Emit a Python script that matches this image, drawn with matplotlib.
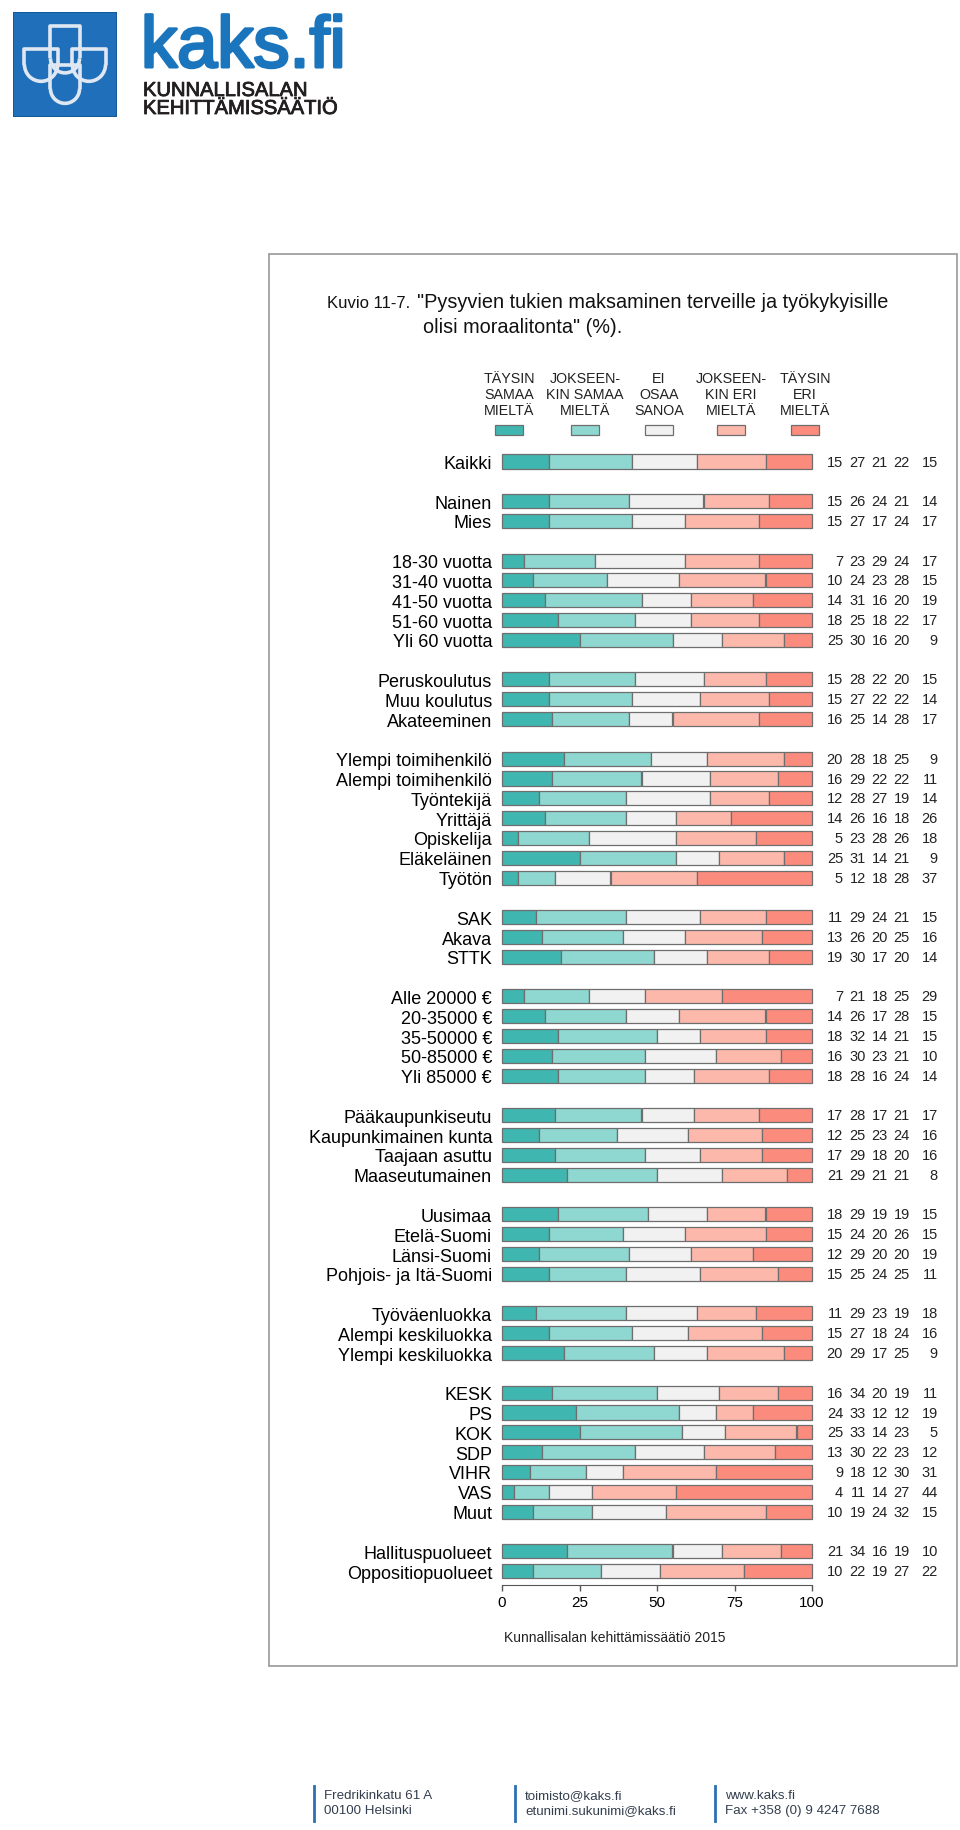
import matplotlib
matplotlib.use("Agg")
import matplotlib.pyplot as plt
from matplotlib.patches import Rectangle, Arc
from matplotlib.lines import Line2D
import matplotlib.patheffects as pe
import numpy as np

plt.rcParams['font.family'] = ['Liberation Sans', 'DejaVu Sans']

W, H = 960, 1831

# --- data -------------------------------------------------------------
labels = [
    "Kaikki",
    "Nainen", "Mies",
    "18-30 vuotta", "31-40 vuotta", "41-50 vuotta", "51-60 vuotta", "Yli 60 vuotta",
    "Peruskoulutus", "Muu koulutus", "Akateeminen",
    "Ylempi toimihenkilö", "Alempi toimihenkilö", "Työntekijä", "Yrittäjä",
    "Opiskelija", "Eläkeläinen", "Työtön",
    "SAK", "Akava", "STTK",
    "Alle 20000 €", "20-35000 €", "35-50000 €", "50-85000 €", "Yli 85000 €",
    "Pääkaupunkiseutu", "Kaupunkimainen kunta", "Taajaan asuttu", "Maaseutumainen",
    "Uusimaa", "Etelä-Suomi", "Länsi-Suomi", "Pohjois- ja Itä-Suomi",
    "Työväenluokka", "Alempi keskiluokka", "Ylempi keskiluokka",
    "KESK", "PS", "KOK", "SDP", "VIHR", "VAS", "Muut",
    "Hallituspuolueet", "Oppositiopuolueet",
]
group_sizes = [1, 2, 5, 3, 7, 3, 5, 4, 4, 3, 7, 2]

taysin_samaa = [15, 15, 15, 7, 10, 14, 18, 25, 15, 15, 16, 20, 16, 12, 14, 5, 25, 5,
                11, 13, 19, 7, 14, 18, 16, 18, 17, 12, 17, 21, 18, 15, 12, 15,
                11, 15, 20, 16, 24, 25, 13, 9, 4, 10, 21, 10]
jokseenkin_samaa = [27, 26, 27, 23, 24, 31, 25, 30, 28, 27, 25, 28, 29, 28, 26, 23, 31, 12,
                    29, 26, 30, 21, 26, 32, 30, 28, 28, 25, 29, 29, 29, 24, 29, 25,
                    29, 27, 29, 34, 33, 33, 30, 18, 11, 19, 34, 22]
ei_osaa = [21, 24, 17, 29, 23, 16, 18, 16, 22, 22, 14, 18, 22, 27, 16, 28, 14, 18,
           24, 20, 17, 18, 17, 14, 23, 16, 17, 23, 18, 21, 19, 20, 20, 24,
           23, 18, 17, 20, 12, 14, 22, 12, 14, 24, 16, 19]
jokseenkin_eri = [22, 21, 24, 24, 28, 20, 22, 20, 20, 22, 28, 25, 22, 19, 18, 26, 21, 28,
                  21, 25, 20, 25, 28, 21, 21, 24, 21, 24, 20, 21, 19, 26, 20, 25,
                  19, 24, 25, 19, 12, 23, 23, 30, 27, 32, 19, 27]
taysin_eri = [15, 14, 17, 17, 15, 19, 17, 9, 15, 14, 17, 9, 11, 14, 26, 18, 9, 37,
              15, 16, 14, 29, 15, 15, 10, 14, 17, 16, 16, 8, 15, 15, 19, 11,
              18, 16, 9, 11, 19, 5, 12, 31, 44, 15, 10, 22]

series = [taysin_samaa, jokseenkin_samaa, ei_osaa, jokseenkin_eri, taysin_eri]
answer_labels = ["TÄYSIN\nSAMAA\nMIELTÄ", "JOKSEEN-\nKIN SAMAA\nMIELTÄ", "EI\nOSAA\nSANOA",
                 "JOKSEEN-\nKIN ERI\nMIELTÄ", "TÄYSIN\nERI\nMIELTÄ"]
colors = ["#40b6b0", "#8ed8d1", "#f1f1f1", "#fcb8aa", "#fb8b7c"]
x_ticks = [0, 25, 50, 75, 100]


def fx(px):
    return px / W


def fy(py):
    return 1 - py / H


fig = plt.figure(figsize=(9.6, 18.31), dpi=100)

# row positions, one empty row between groups
rows = []
pos = 0
for n in group_sizes:
    rows.extend(range(pos, pos + n))
    pos += n + 1
rows = np.array(rows)

# --- main bar chart ---------------------------------------------------
ax = fig.add_axes([fx(500.45), fy(1585.9), 313.1 / W, (1585.9 - 452.6) / H])
ax.set_xlim(-0.5, 100.5)
ax.set_ylim(56.7, -0.5)

left = np.zeros(len(labels))
for vals, c in zip(series, colors):
    vals = np.array(vals)
    ax.barh(rows, vals, left=left, height=0.71, color=c, edgecolor="#6e6e6e",
            linewidth=0.9)
    left += vals

num_x = [110.0, 117.4, 124.5, 131.6, 140.6]
for i, r in enumerate(rows):
    for j, vals in enumerate(series):
        ax.text(num_x[j], r, f"{vals[i]}", ha="right", va="center",
                fontsize=10.5, color="#222222", clip_on=False)

ax.set_yticks(rows, labels, fontsize=13)
ax.tick_params(axis="y", length=0, pad=6)
ax.set_xticks(x_ticks)
ax.tick_params(axis="x", labelsize=11, length=4.5, width=1, color="#555555", pad=3)
for s in ["left", "top", "right"]:
    ax.spines[s].set_visible(False)
ax.spines["bottom"].set_bounds(0, 100)
ax.spines["bottom"].set_color("#555555")

# --- legend above bars -------------------------------------------------
leg_x = [509, 585, 659, 731, 805]
for cx, txt, c in zip(leg_x, answer_labels, colors):
    fig.text(fx(cx), fy(395), txt, ha="center", va="center", fontsize=10.3,
             linespacing=1.2, color="#222222")
    fig.add_artist(Rectangle((fx(cx - 14), fy(436)), 28 / W, 10 / H,
                             transform=fig.transFigure, facecolor=c,
                             edgecolor="#6e6e6e", linewidth=0.9))

# --- titles ------------------------------------------------------------
fig.text(fx(327), fy(308), "Kuvio 11-7.", fontsize=12, va="baseline", color="#111111")
fig.text(fx(417), fy(308), "\"Pysyvien tukien maksaminen terveille ja työkykyisille",
         fontsize=14.3, va="baseline", color="#111111")
fig.text(fx(423), fy(333), "olisi moraalitonta\" (%).", fontsize=14.3,
         va="baseline", color="#111111")
fig.text(fx(615), fy(1638), "Kunnallisalan kehittämissäätiö 2015", fontsize=10,
         ha="center", va="center", color="#222222")

# panel frame
fig.add_artist(Rectangle((fx(269), fy(1667)), (957 - 269) / W, (1667 - 255) / H,
                         transform=fig.transFigure, fill=False,
                         edgecolor="#a0a0a0", linewidth=1.3))

# --- logo --------------------------------------------------------------
lax = fig.add_axes([fx(13), fy(118), 104 / W, 105 / H])
lax.set_xlim(0, 1)
lax.set_ylim(0, 1)
lax.axis("off")
lax.add_patch(Rectangle((0, 0), 1, 1, facecolor="#1f6fba", edgecolor="#175a99", lw=1.5))


def shield(x0, x1, ytop, ystraight):
    cx = (x0 + x1) / 2
    d = x1 - x0
    lax.plot([x0, x0, x1, x1], [ystraight, ytop, ytop, ystraight], color="#dfe8f2",
             lw=2.6, solid_capstyle="butt")
    lax.add_patch(Arc((cx, ystraight), d, d, theta1=180, theta2=360,
                      color="#dfe8f2", lw=2.6))


shield(0.36, 0.64, 0.87, 0.56)
shield(0.11, 0.43, 0.65, 0.50)
shield(0.57, 0.89, 0.65, 0.50)
shield(0.36, 0.64, 0.50, 0.27)

fig.text(fx(141), fy(68), "kaks.fi", fontsize=52, color="#1b75bc", va="baseline",
         path_effects=[pe.withStroke(linewidth=2.2, foreground="#1b75bc")])
stroke = [pe.withStroke(linewidth=0.6, foreground="#231f20")]
fig.text(fx(143), fy(97), "KUNNALLISALAN", fontsize=14.5, color="#231f20",
         va="baseline", path_effects=stroke)
fig.text(fx(143), fy(115), "KEHITTÄMISSÄÄTIÖ", fontsize=14.5, color="#231f20",
         va="baseline", path_effects=stroke)

# --- footer ------------------------------------------------------------
footer = [(314, "Fredrikinkatu 61 A", "00100 Helsinki"),
          (515, "toimisto@kaks.fi", "etunimi.sukunimi@kaks.fi"),
          (715, "www.kaks.fi", "Fax +358 (0) 9 4247 7688")]
for bx, l1, l2 in footer:
    fig.add_artist(Line2D([fx(bx), fx(bx)], [fy(1787), fy(1822)],
                          transform=fig.transFigure, color="#2c6fb5", lw=2))
    fig.text(fx(bx + 10), fy(1796), l1, fontsize=9.6, va="center", color="#333f4f")
    fig.text(fx(bx + 10), fy(1811), l2, fontsize=9.6, va="center", color="#333f4f")

fig.savefig("out.png", dpi=100, facecolor="white")
